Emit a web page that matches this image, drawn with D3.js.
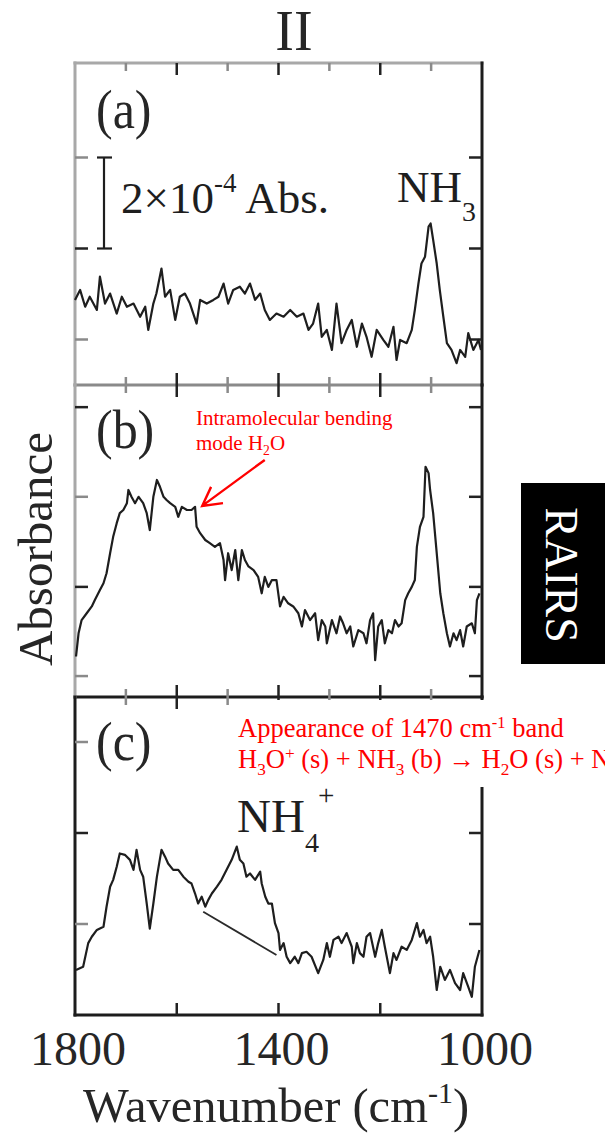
<!DOCTYPE html>
<html>
<head>
<meta charset="utf-8">
<script src="https://cdn.jsdelivr.net/npm/d3@7/dist/d3.min.js"></script>
<style>
  body { margin: 0; background: #fff; }
  svg { display: block; font-family: "Liberation Serif", "Times New Roman", serif; }
</style>
</head>
<body>
<div class="board"></div>
<script>

// absorbance in units of 1e-4, wavenumber in cm-1
var wnA = [1800,1790,1780,1771,1757,1751,1741,1731,1718,1708,1698,1685,1672,1662,1656,1646,1640,1630,1623,1613,
  1603,1594,1584,1574,1561,1554,1541,1528,1518,1508,1499,1489,1476,1466,1456,1446,1436,1427,1417,1404,
  1390,1377,1364,1351,1341,1332,1322,1315,1305,1295,1286,1276,1266,1256,1246,1236,1227,1217,1207,1194,
  1184,1174,1168,1161,1148,1138,1132,1125,1119,1112,1105,1101,1096,1089,1083,1076,1069,1060,1050,1043,
  1033,1027,1017,1007,1002];
var absA = [1.87,2.09,1.72,1.94,1.65,2.38,1.79,2.01,1.57,1.94,1.72,1.79,1.50,1.72,1.21,1.79,2.01,2.56,1.94,2.09,
  1.43,1.94,2.01,1.79,1.35,1.87,1.79,1.87,1.94,2.23,1.79,2.09,2.16,2.01,2.23,1.87,2.01,1.65,1.43,1.57,
  1.50,1.65,1.50,1.57,1.21,1.35,1.79,1.06,1.21,0.77,1.79,0.92,1.21,1.43,0.84,1.35,1.06,0.62,1.21,0.99,
  0.84,1.28,0.55,0.99,0.92,1.21,1.65,2.23,2.67,2.82,3.48,3.55,3.19,2.67,2.09,1.50,0.92,0.77,0.48,0.77,
  0.62,1.14,0.77,0.99,0.77];

var wnB = [1798,1793,1787,1777,1767,1761,1751,1744,1738,1731,1725,1718,1712,1705,1698,1695,1689,1682,1675,1666,
  1659,1653,1646,1639,1633,1626,1620,1613,1603,1597,1590,1580,1571,1564,1561,1554,1544,1535,1525,1515,
  1508,1505,1499,1492,1485,1479,1472,1466,1459,1449,1440,1433,1427,1420,1413,1404,1397,1390,1381,1371,
  1361,1354,1348,1338,1328,1322,1315,1308,1305,1295,1286,1279,1273,1266,1259,1253,1243,1233,1227,1220,
  1214,1210,1204,1197,1191,1184,1177,1171,1164,1158,1151,1145,1138,1132,1128,1122,1115,1111,1105,1102,
  1096,1089,1082,1076,1069,1063,1056,1050,1043,1037,1030,1020,1014,1010,1005];
var absB = [0.89,1.40,1.69,1.84,1.99,2.13,2.35,2.50,2.72,3.16,3.52,3.82,4.04,4.11,4.26,4.55,4.40,4.26,4.40,4.26,
  4.04,3.67,4.40,4.77,4.62,4.40,4.33,4.26,4.18,3.96,4.18,4.11,4.11,4.18,3.74,3.60,3.45,3.38,3.30,3.38,
  3.01,2.57,3.16,2.79,3.23,2.57,3.23,3.01,2.87,2.79,2.64,2.28,2.64,2.42,2.57,2.57,1.99,2.20,2.06,1.99,
  1.84,1.55,1.91,1.69,1.84,1.25,1.69,1.55,1.18,1.69,1.40,1.77,1.62,1.40,1.55,1.11,1.47,1.40,1.18,1.69,
  1.84,0.81,1.55,1.69,1.18,1.47,1.40,1.69,1.55,1.62,2.13,2.28,2.42,2.57,3.30,3.74,3.96,5.06,4.92,4.55,
  4.04,3.16,2.28,1.84,1.40,1.11,1.40,1.25,1.47,1.11,1.55,1.62,1.40,2.13,2.28];

var wnC = [1798,1784,1774,1767,1757,1744,1738,1731,1725,1718,1712,1702,1692,1685,1679,1672,1666,1659,1653,1646,
  1639,1630,1623,1617,1607,1597,1587,1577,1571,1564,1558,1551,1544,1538,1531,1521,1512,1502,1492,1482,
  1476,1469,1463,1456,1446,1436,1433,1426,1420,1413,1407,1400,1397,1390,1384,1377,1368,1361,1354,1345,
  1335,1322,1312,1305,1299,1292,1282,1276,1266,1256,1253,1246,1240,1233,1227,1220,1210,1204,1197,1191,
  1181,1174,1168,1158,1148,1138,1128,1122,1115,1109,1102,1096,1089,1082,1073,1063,1053,1043,1037,1027,
  1020,1014,1005];
var absC = [0.99,1.06,1.58,1.72,1.87,1.94,2.38,2.82,2.97,3.26,3.55,3.52,3.41,3.19,3.63,3.19,3.04,2.45,1.90,2.45,
  3.04,3.63,3.48,3.33,3.19,3.19,3.04,2.93,2.89,2.67,2.45,2.60,2.38,2.53,2.67,2.82,2.97,3.19,3.41,3.70,
  3.41,3.33,3.04,3.11,2.97,3.15,2.89,2.60,2.45,2.45,2.02,1.80,1.43,1.58,1.28,1.14,1.28,1.14,1.36,1.39,
  1.28,0.92,1.21,1.58,1.28,1.65,1.72,1.58,1.80,1.50,1.14,1.58,1.36,1.28,1.72,1.80,1.28,1.58,1.87,1.50,
  0.92,1.36,1.21,1.50,1.43,1.65,2.02,1.72,1.87,1.58,1.72,1.28,0.55,1.06,0.77,0.99,0.70,0.55,0.92,0.62,
  0.40,1.06,1.43];

// NH4+ baseline drawn under the 1470 band in (c)
var baseWn = [1548, 1404];
var baseAbs = [2.27, 1.32];

var xTickLabels = [1800, 1400, 1000];
var majorTicks = [1600, 1400, 1200];
var minorTicks = [1700, 1500, 1300, 1100];
var yTicksA = [1, 3, 5];
var yTicksB = [0.46, 2.42, 4.4, 6.37];
var yTicksC = [2, 4, 6];
var scaleBar = [3, 5];   // 2x10^-4 Abs in panel (a)

var svg = d3.select('.board').append('svg')
            .attr('width', 605)
            .attr('height', 1138);

var x = d3.scaleLinear().domain([1800, 1000]).range([75, 482]);
var pxPerUnit = 45.5;

var panels = [
  {label: '(a)', wn: wnA, abs: absA, top: 63, bottom: 385, ticks: yTicksA, labelY: 128,
   colors: {top: '#a8a8a8', left: '#a8a8a8', right: '#1c1c1c', bottom: '#8a8a8a'}},
  {label: '(b)', wn: wnB, abs: absB, top: 385, bottom: 697, ticks: yTicksB, labelY: 448,
   colors: {top: null, left: '#a8a8a8', right: '#1c1c1c', bottom: '#1c1c1c'}},
  {label: '(c)', wn: wnC, abs: absC, top: 697, bottom: 1015, ticks: yTicksC, labelY: 760,
   colors: {top: null, left: '#1c1c1c', right: '#1c1c1c', bottom: '#1c1c1c'}}
];

panels.forEach(function(p) {
  p.y = d3.scaleLinear().domain([0, (p.bottom - p.top) / pxPerUnit]).range([p.bottom, p.top]);
});

// rich text: parts are [string, baseline shift in em, size factor]
var addRich = function(parent, px, py, size, parts, fill) {
  var t = parent.append('text')
                .attr('x', px)
                .attr('y', py)
                .attr('font-size', size)
                .attr('fill', fill || '#1e1e1e');
  var shift = 0;
  parts.forEach(function(d) {
    var s = (d[1] || 0) * size;
    t.append('tspan')
     .attr('dy', s - shift)
     .attr('font-size', size * (d[2] || 1))
     .text(d[0]);
    shift = s;
  });
  return t;
};

var frame = svg.append('g');
var ticks = svg.append('g');
var lines = svg.append('g');

panels.forEach(function(p, i) {
  var c = p.colors;
  var edges = [
    {col: c.top, x1: 75, y1: p.top, x2: 482, y2: p.top},
    {col: c.bottom, x1: 75, y1: p.bottom, x2: 482, y2: p.bottom},
    {col: c.left, x1: 75, y1: p.top, x2: 75, y2: p.bottom},
    {col: c.right, x1: 482, y1: p.top, x2: 482, y2: p.bottom}
  ].filter(function(e) { return e.col; });

  frame.selectAll(null)
       .data(edges)
       .enter()
       .append('line')
       .attr('x1', function(d) { return d.x1; })
       .attr('y1', function(d) { return d.y1; })
       .attr('x2', function(d) { return d.x2; })
       .attr('y2', function(d) { return d.y2; })
       .attr('stroke', function(d) { return d.col; })
       .attr('stroke-width', 3)
       .attr('stroke-linecap', 'square');

  // x ticks, inward from top and bottom
  var topTicks = majorTicks.concat(minorTicks);
  var botTicks = i === 2 ? majorTicks : majorTicks.concat(minorTicks);
  ticks.selectAll(null)
       .data(topTicks)
       .enter()
       .append('line')
       .attr('x1', function(d) { return x(d); })
       .attr('x2', function(d) { return x(d); })
       .attr('y1', p.top)
       .attr('y2', function(d) { return p.top + (majorTicks.indexOf(d) >= 0 ? 12 : 8); })
       .attr('stroke', function(d) { return majorTicks.indexOf(d) >= 0 ? '#222' : '#8a8a8a'; })
       .attr('stroke-width', 2.5);
  ticks.selectAll(null)
       .data(botTicks)
       .enter()
       .append('line')
       .attr('x1', function(d) { return x(d); })
       .attr('x2', function(d) { return x(d); })
       .attr('y1', p.bottom)
       .attr('y2', function(d) { return p.bottom - (majorTicks.indexOf(d) >= 0 ? 12 : 8); })
       .attr('stroke', function(d) { return majorTicks.indexOf(d) >= 0 ? '#222' : '#8a8a8a'; })
       .attr('stroke-width', 2.5);

  // y ticks on both sides
  ticks.selectAll(null)
       .data(p.ticks)
       .enter()
       .append('line')
       .attr('x1', 75)
       .attr('x2', 88)
       .attr('y1', function(d) { return p.y(d); })
       .attr('y2', function(d) { return p.y(d); })
       .attr('stroke', function(d, j) { return j % 2 ? '#222' : '#8a8a8a'; })
       .attr('stroke-width', 2.5);
  ticks.selectAll(null)
       .data(p.ticks)
       .enter()
       .append('line')
       .attr('x1', 469)
       .attr('x2', 482)
       .attr('y1', function(d) { return p.y(d); })
       .attr('y2', function(d) { return p.y(d); })
       .attr('stroke', '#222')
       .attr('stroke-width', 2.5);

  var line = d3.line()
               .x(function(d) { return x(d[0]); })
               .y(function(d) { return p.y(d[1]); });

  lines.append('path')
       .datum(d3.zip(p.wn, p.abs))
       .attr('d', line)
       .attr('fill', 'none')
       .attr('stroke', '#1e1e1e')
       .attr('stroke-width', 2.2)
       .attr('stroke-linejoin', 'round');

  svg.append('text')
     .attr('x', 96)
     .attr('y', p.labelY)
     .attr('font-size', 50)
     .attr('fill', '#262626')
     .attr('transform', 'translate(0,' + (-p.labelY * 0.08) + ') scale(1,1.08)')
     .text(p.label);
});

var pa = panels[0], pb = panels[1], pc = panels[2];

// baseline under NH4+ band
lines.append('path')
     .datum(d3.zip(baseWn, baseAbs))
     .attr('d', d3.line().x(function(d) { return x(d[0]); }).y(function(d) { return pc.y(d[1]); }))
     .attr('stroke', '#2a2a2a')
     .attr('stroke-width', 1.8);

// scale bar in (a)
var sb = svg.append('g').attr('stroke', '#1e1e1e').attr('stroke-width', 2.2);
sb.append('line').attr('x1', 104).attr('x2', 104).attr('y1', pa.y(scaleBar[0])).attr('y2', pa.y(scaleBar[1]));
sb.selectAll(null)
  .data(scaleBar)
  .enter()
  .append('line')
  .attr('x1', 97).attr('x2', 112)
  .attr('y1', function(d) { return pa.y(d); })
  .attr('y2', function(d) { return pa.y(d); });

addRich(svg, 121, 213, 45, [['2×10'], ['-4', -0.47, 0.6], [' Abs.', 0]]);
addRich(svg, 397, 202, 45, [['NH'], ['3', 0.42, 0.62]]);
addRich(svg, 237, 832, 47, [['NH'], ['4', 0.43, 0.6], ['+', -0.58, 0.62]]).select('tspan:last-child').attr('dx', -1);

// title
svg.append('text')
   .attr('x', 294)
   .attr('y', 50)
   .attr('text-anchor', 'middle')
   .attr('font-size', 56)
   .attr('fill', '#262626')
   .text('II');

// x tick labels
svg.selectAll(null)
   .data(xTickLabels)
   .enter()
   .append('text')
   .attr('x', function(d) { return x(d) + 3; })
   .attr('y', 1065)
   .attr('text-anchor', 'middle')
   .attr('font-size', 48)
   .attr('fill', '#262626')
   .text(function(d) { return d; });

addRich(svg, 83, 1122, 48.5, [['Wavenumber (cm'], ['-1', -0.4, 0.62], [')', 0]], '#262626');

svg.append('text')
   .attr('transform', 'translate(52,549) rotate(-90)')
   .attr('text-anchor', 'middle')
   .attr('font-size', 49)
   .attr('fill', '#262626')
   .text('Absorbance');

// RAIRS tag
svg.append('rect')
   .attr('x', 521).attr('y', 483)
   .attr('width', 84).attr('height', 181)
   .attr('fill', '#000');
svg.append('text')
   .attr('transform', 'translate(546,575) rotate(90)')
   .attr('text-anchor', 'middle')
   .attr('font-size', 46)
   .attr('fill', '#fff')
   .text('RAIRS');

// red annotations
var red = '#ff0000';
addRich(svg, 196, 425, 21, [['Intramolecular bending']], red);
addRich(svg, 196, 450, 21, [['mode H'], ['2', 0.25, 0.65], ['O', 0]], red);

var arrowTail = [1427, 5.21];
var arrowTip = [1550, 4.2];
var tx = x(arrowTip[0]), ty = pb.y(arrowTip[1]);
var fx = x(arrowTail[0]), fy = pb.y(arrowTail[1]);
var ang = Math.atan2(ty - fy, tx - fx);
var wing = function(a) { return [tx - 21 * Math.cos(ang + a), ty - 21 * Math.sin(ang + a)]; };
var w1 = wing(0.5), w2 = wing(-0.5);
svg.append('path')
   .attr('d', 'M' + fx + ',' + fy + 'L' + tx + ',' + ty + 'M' + w1 + 'L' + tx + ',' + ty + 'L' + w2)
   .attr('fill', 'none')
   .attr('stroke', red)
   .attr('stroke-width', 2.4);

svg.append('rect')
   .attr('x', 230).attr('y', 700)
   .attr('width', 375).attr('height', 87)
   .attr('fill', '#fff');

addRich(svg, 238, 737, 26.5, [['Appearance of 1470 cm'], ['-1', -0.35, 0.62], [' band', 0]], red);
addRich(svg, 238, 768, 26.5, [
  ['H'], ['3', 0.25, 0.65], ['O', 0], ['+', -0.35, 0.65],
  [' (s) + NH', 0], ['3', 0.25, 0.65], [' (b) → H', 0], ['2', 0.25, 0.65],
  ['O (s) + NH', 0], ['4', 0.25, 0.65], ['+', -0.35, 0.65], [' (s)', 0]
], red);

</script>
</body>
</html>
